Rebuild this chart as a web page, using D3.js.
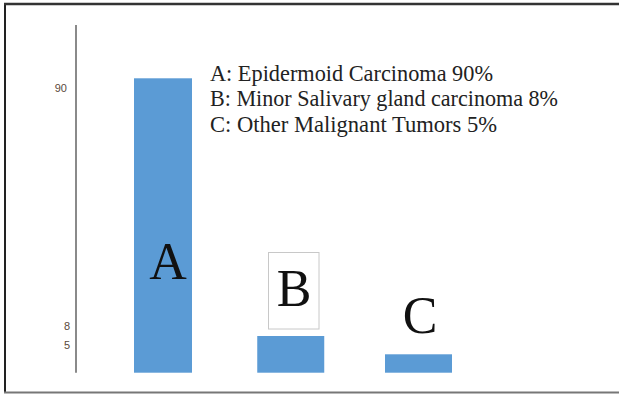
<!DOCTYPE html>
<html><head><meta charset="utf-8">
<script src="https://cdn.jsdelivr.net/npm/d3@7"></script>
<style>body{margin:0;background:#fff;}svg{display:block;}</style>
</head><body>
<script>
const categories = ["A", "B", "C"];
const values = [90, 8, 5];
const tickValues = [90, 8, 5];
const legendLines = ["A: Epidermoid Carcinoma 90%", "B: Minor Salivary gland carcinoma 8%", "C: Other Malignant Tumors 5%"];

const W = 619, H = 395;
const svg = d3.select("body").append("svg").attr("width", W).attr("height", H);

// frame
svg.append("line").attr("x1",5).attr("y1",4).attr("x2",5).attr("y2",393).attr("stroke","#222").attr("stroke-width",2);
svg.append("line").attr("x1",4).attr("y1",4).attr("x2",619).attr("y2",4).attr("stroke","#333").attr("stroke-width",2.5);
svg.append("line").attr("x1",4).attr("y1",392.5).attr("x2",619).attr("y2",392.5).attr("stroke","#777").attr("stroke-width",2);

const x = d3.scalePoint().domain(categories).range([163, 418.5]);
const bw = [58, 67, 67];
// hand-drawn chart: piecewise scale reproduces the original bar heights
const y = d3.scaleLinear().domain([0, 5, 8, 90]).range([372.7, 354.3, 336, 78.3]);

// axis line
svg.append("line").attr("x1",76).attr("y1",25).attr("x2",76).attr("y2",372.7).attr("stroke","#8a8a8a").attr("stroke-width",2);

// tick labels
const tickDy = {90: 10, 8: -10, 5: -9};
svg.selectAll("text.tick").data(tickValues).enter().append("text")
  .attr("class","tick")
  .attr("x", d => d === 90 ? 67 : 70)
  .attr("y", d => y(d) + tickDy[d])
  .attr("dy","0.35em")
  .attr("text-anchor","end")
  .attr("font-family","Liberation Sans, Arial, sans-serif")
  .attr("font-size", 11)
  .attr("fill","#5a4a3a")
  .text(d => d);

// bars
svg.selectAll("rect.bar").data(values).enter().append("rect")
  .attr("class","bar")
  .attr("x", (d,i) => x(categories[i]) - bw[i]/2)
  .attr("width", (d,i) => bw[i])
  .attr("y", d => y(d))
  .attr("height", d => y(0) - y(d))
  .attr("fill", "#5B9BD5");

// B box
svg.append("rect").attr("x",268.5).attr("y",252.5).attr("width",50.5).attr("height",76.5)
  .attr("fill","none").attr("stroke","#c8c8c8").attr("stroke-width",1);

// big letters
const letterPos = [[168, 279], [294, 306], [420, 333]];
svg.selectAll("text.letter").data(categories).enter().append("text")
  .attr("class","letter")
  .attr("x", (d,i) => letterPos[i][0])
  .attr("y", (d,i) => letterPos[i][1])
  .attr("text-anchor","middle")
  .attr("font-family","Liberation Serif, Times New Roman, serif")
  .attr("font-size", 52)
  .attr("fill","#111")
  .text(d => d);

// legend text
const legendEnds = [493, 558, 497];
svg.selectAll("text.leg").data(legendLines).enter().append("text")
  .attr("class","leg")
  .attr("x", 210)
  .attr("y", (d,i) => 81 + i*25.3)
  .attr("font-family","Liberation Serif, Times New Roman, serif")
  .attr("font-size", 22.5)
  .attr("fill","#222")
  .attr("textLength", (d,i) => legendEnds[i] - 210)
  .attr("lengthAdjust","spacingAndGlyphs")
  .text(d => d);
</script>
</body></html>
